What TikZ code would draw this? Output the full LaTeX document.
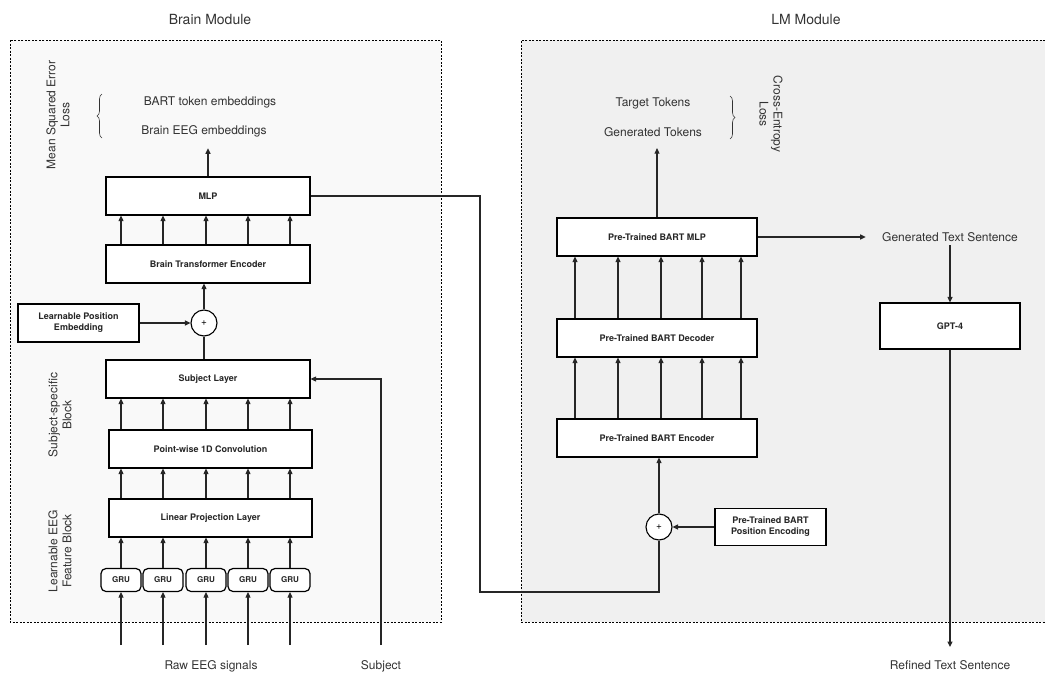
\documentclass[tikz,border=0pt]{standalone}
\usepackage{fontspec}
\setmainfont{TeX Gyre Heros}
\usetikzlibrary{positioning,arrows.meta,decorations.pathreplacing}
\definecolor{brainbg}{HTML}{F9F9F9}
\definecolor{lmbg}{HTML}{F0F0F0}
\definecolor{ink}{HTML}{333333}

\begin{document}
\begin{tikzpicture}[x=1pt,y=-1pt,
	layer/.style={draw, line width=1.2pt, fill=white, minimum height=38pt, inner sep=2pt, align=center, text=black!85, font=\fontsize{9}{11}\selectfont\bfseries},
	gru/.style={draw, line width=1.2pt, fill=white, rounded corners=5pt, minimum width=40pt, minimum height=23pt, inner sep=1pt, text=black!85, font=\fontsize{8}{9}\selectfont\bfseries},
	sum/.style={draw, circle, line width=1.1pt, fill=white, minimum size=26pt, inner sep=0pt, font=\fontsize{10}{11}\selectfont},
	txt/.style={text=ink, align=center, font=\fontsize{12}{14}\selectfont},
	ttl/.style={text=ink, font=\fontsize{14}{16}\selectfont},
	module/.style={line width=1pt, dash pattern=on 2pt off 1.5pt},
	flow/.style={line width=1.1pt, black!85, -{Triangle[length=5.5pt,width=5pt]}},
	wire/.style={line width=1.1pt, black!85},
	curly/.style={line width=0.6pt, ink, decorate, decoration={brace, amplitude=5pt}}]
				\useasboundingbox (0,0) rectangle (1045,675);
				\filldraw[module, fill=brainbg] (10,40) rectangle (441,622);
				\filldraw[module, fill=lmbg] (1045,40) -- (521,40) -- (521,622) -- (1045,622);
				\node[ttl] (brainttl) at (210,19) {Brain Module};
				\node[ttl] (lmttl) at (806,19) {LM Module};

				\node[txt, rotate=90] (mse) at (58,115) {Mean Squared Error\\Loss};
				\node[txt] (bartemb) at (210,102) {BART token embeddings};
				\node[txt] (eegemb) at (204,131) {Brain EEG embeddings};
				\node[layer, minimum width=204pt] (mlp) at (208,196) {MLP};
				\node[layer, minimum width=204pt] (enc) at (208,264) {Brain Transformer Encoder};
				\node[sum] (plus) at (204,323) {+};
				\node[layer, minimum width=121pt] (lpe) at (78.5,323) {Learnable Position\\Embedding};
				\node[layer, minimum width=204pt] (subj) at (208,379) {Subject Layer};
				\node[txt, rotate=90] (ssb) at (60,415) {Subject-specific\\Block};
				\node[layer, minimum width=203pt] (conv) at (210.5,449) {Point-wise 1D Convolution};
				\node[layer, minimum width=203pt] (lin) at (210.5,518) {Linear Projection Layer};
				\node[txt, rotate=90] (efb) at (60,551) {Learnable EEG\\Feature Block};
				\node[txt] (raw) at (211,666) {Raw EEG signals};
				\node[txt] (subjtxt) at (381,666) {Subject};
				\coordinate (subjin) at (381,645);

				\foreach \i/\x in {1/121,2/163,3/206,4/248,5/290} {
					\node[gru] (gru\i) at (\x,580) {GRU};
					\coordinate (sig\i) at (\x,645);
					\draw[flow] (sig\i) -- (gru\i);
					\draw[flow] (gru\i) -- (gru\i |- lin.south);
					\draw[flow] (lin.north -| gru\i) -- (conv.south -| gru\i);
					\draw[flow] (conv.north -| gru\i) -- (subj.south -| gru\i);
					\draw[flow] (enc.north -| gru\i) -- (mlp.south -| gru\i);
				}
				\draw[flow, shorten >=8pt] (mlp) -- (mlp |- eegemb.south);
				\draw[flow] (plus) -- (plus |- enc.south);
				\draw[flow] (lpe) -- (plus);
				\draw[wire] (subj.north -| plus) -- (plus);
				\draw[flow] (subjin) |- (subj.east);
				\draw[curly] (102,138) -- (102,94);

				\node[txt] (tgt) at (653,103) {Target Tokens};
				\node[txt] (gentok) at (653,132) {Generated Tokens};
				\node[txt, rotate=-90] (cel) at (771,114) {Cross-Entropy\\Loss};
				\node[layer, minimum width=200pt] (bmlp) at (657,237) {Pre-Trained BART MLP};
				\node[layer, minimum width=200pt] (bdec) at (657,338) {Pre-Trained BART Decoder};
				\node[layer, minimum width=200pt] (benc) at (657,438) {Pre-Trained BART Encoder};
				\node[sum] (bplus) at (659,527) {+};
				\node[layer, minimum width=111pt, minimum height=37pt] (bpos) at (770.5,527) {Pre-Trained BART\\Position Encoding};
				\node[txt] (gents) at (950,237) {Generated Text Sentence};
				\node[layer, minimum width=140pt, minimum height=46pt] (gpt) at (950,326) {GPT-4};
				\node[txt] (refined) at (950,665) {Refined Text Sentence};
				\coordinate (gptout) at (950,647);
				\coordinate (bend) at (480,592);

				\foreach \i/\x in {1/575,2/618,3/661,4/702,5/741} {
					\coordinate (tok\i) at (\x,400);
					\draw[flow] (benc.north -| tok\i) -- (bdec.south -| tok\i);
					\draw[flow] (bdec.north -| tok\i) -- (bmlp.south -| tok\i);
				}
				\draw[wire] (mlp.east) -| (bend) -| (bplus.south);
				\draw[flow] (bplus) -- (bplus |- benc.south);
				\draw[flow] (bpos) -- (bplus);
				\draw[flow, shorten >=8pt] (bmlp) -- (bmlp |- gentok.south);
				\draw[flow, shorten >=13pt] (bmlp) -- (gents);
				\draw[flow] (gents) -- (gpt);
				\draw[flow] (gpt) -- (gptout);
				\draw[curly] (730,96) -- (730,139);
\end{tikzpicture}
\end{document}
